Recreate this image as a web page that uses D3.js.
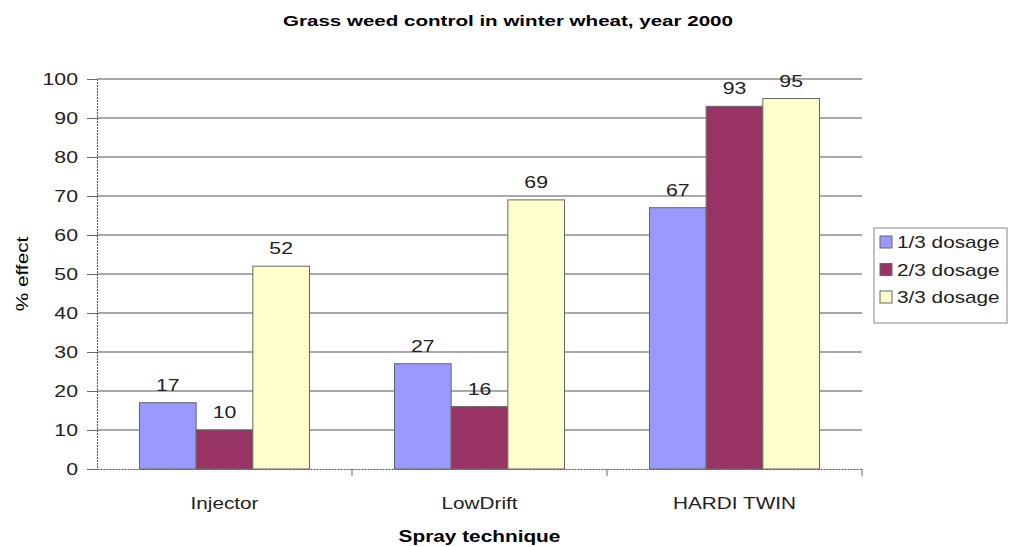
<!DOCTYPE html>
<html>
<head>
<meta charset="utf-8">
<script src="https://cdn.jsdelivr.net/npm/d3@7"></script>
<style>
  body { margin: 0; background: #fff; }
  svg { display: block; font-family: Arial, "Liberation Sans", sans-serif; }
</style>
</head>
<body>
<div id="vis-container"></div>
<script>
// chart data
const techniques = ["Injector", "LowDrift", "HARDI TWIN"]
const dosages = ["1/3 dosage", "2/3 dosage", "3/3 dosage"]
const dose1 = [17, 27, 67]
const dose2 = [10, 16, 93]
const dose3 = [52, 69, 95]
const yTicks = [0, 10, 20, 30, 40, 50, 60, 70, 80, 90, 100]
const colors = ["#9999ff", "#993366", "#ffffcc"]

const FONT = 'Arial, "Liberation Sans", sans-serif'

const svgWidth = 1009
const svgHeight = 547
const margin = { left: 97, right: 147, top: 79, bottom: 78 }
const width = svgWidth - margin.left - margin.right
const height = svgHeight - margin.top - margin.bottom

// the reference text is a bit wide, so stretch glyphs horizontally
function stretch(sel, factor) {
    sel.each(function () {
        const len = this.getComputedTextLength()
        d3.select(this)
            .attr('textLength', len * factor)
            .attr('lengthAdjust', 'spacingAndGlyphs')
    })
}

const svg = d3.select('#vis-container')
    .append('svg')
    .attr('width', svgWidth)
    .attr('height', svgHeight)

const g = svg.append('g')
    .attr('transform', `translate(${margin.left},${margin.top})`)

// wrangle into rows
const series = [dose1, dose2, dose3]
let rows = []
techniques.forEach((t, i) => {
    dosages.forEach((d, j) => {
        rows.push({ technique: t, dosage: d, value: series[j][i] })
    })
})

// scales
const xScale = d3.scaleBand()
    .domain(techniques)
    .range([0, width])

const xInner = d3.scaleBand()
    .domain(dosages)
    .range([0, xScale.bandwidth()])
    .paddingInner(0)
    .paddingOuter(0.75)

const yScale = d3.scaleLinear()
    .domain([0, 100])
    .range([height, 0])

const colorScale = d3.scaleOrdinal()
    .domain(dosages)
    .range(colors)

// gridlines
g.append('g')
    .selectAll('line')
    .data(yTicks.slice(1))
    .join('line')
    .attr('x1', 0)
    .attr('x2', width)
    .attr('y1', d => yScale(d))
    .attr('y2', d => yScale(d))
    .attr('stroke', '#8c8c8c')
    .attr('stroke-width', 1.5)

// bars
g.append('g')
    .selectAll('rect')
    .data(rows)
    .join('rect')
    .attr('x', d => xScale(d.technique) + xInner(d.dosage))
    .attr('y', d => yScale(d.value))
    .attr('width', xInner.bandwidth())
    .attr('height', d => height - yScale(d.value))
    .attr('fill', d => colorScale(d.dosage))
    .attr('stroke', '#666')
    .attr('stroke-width', 1)

// value labels
const valueLabels = g.append('g')
    .selectAll('text')
    .data(rows)
    .join('text')
    .attr('x', d => xScale(d.technique) + xInner(d.dosage) + xInner.bandwidth() / 2)
    .attr('y', d => yScale(d.value) - 12)
    .attr('text-anchor', 'middle')
    .attr('font-size', 17)
    .attr('fill', '#222')
    .text(d => d.value)
stretch(valueLabels, 1.25)

// y axis
const yAxis = g.append('g')
    .call(d3.axisLeft(yScale).tickValues(yTicks).tickSizeOuter(0).tickSize(10).tickPadding(9))
yAxis.selectAll('text').attr('font-size', 17).attr('fill', '#222').attr('font-family', FONT)
stretch(yAxis.selectAll('text'), 1.25)
yAxis.selectAll('line').attr('stroke', '#666')
yAxis.select('.domain').attr('stroke', '#555').attr('stroke-dasharray', '2,1')

// x axis: ticks at category borders
const xAxis = g.append('g')
    .attr('transform', `translate(0,${height})`)
    .call(d3.axisBottom(xScale).tickSize(0).tickPadding(28).tickSizeOuter(0))
xAxis.selectAll('text').attr('font-size', 17).attr('fill', '#222').attr('font-family', FONT)
stretch(xAxis.selectAll('text'), 1.22)
xAxis.select('.domain').attr('stroke', '#555').attr('stroke-dasharray', '2,1')
xAxis.append('g')
    .selectAll('line')
    .data(techniques.slice(1).concat(['end']))
    .join('line')
    .attr('x1', d => d === 'end' ? width : xScale(d))
    .attr('x2', d => d === 'end' ? width : xScale(d))
    .attr('y1', 0)
    .attr('y2', 7)
    .attr('stroke', '#666')

// titles
const title = svg.append('text')
    .attr('x', 508)
    .attr('y', 26)
    .attr('text-anchor', 'middle')
    .attr('font-size', 15)
    .attr('font-weight', 'bold')
    .text('Grass weed control in winter wheat, year 2000')
stretch(title, 1.37)

const xTitle = svg.append('text')
    .attr('x', margin.left + width / 2)
    .attr('y', 542)
    .attr('text-anchor', 'middle')
    .attr('font-size', 16)
    .attr('font-weight', 'bold')
    .text('Spray technique')
stretch(xTitle, 1.3)

const yTitle = svg.append('text')
    .attr('transform', `translate(28,${margin.top + height / 2}) rotate(-90)`)
    .attr('text-anchor', 'middle')
    .attr('font-size', 16)
    .text('% effect')
stretch(yTitle, 1.3)

// legend
const legend = svg.append('g')
    .attr('transform', 'translate(874,228)')

legend.append('rect')
    .attr('width', 133)
    .attr('height', 95)
    .attr('fill', '#fff')
    .attr('stroke', '#888')

legend.selectAll('g')
    .data(dosages)
    .join('g')
    .attr('transform', (d, i) => `translate(6,${8 + i * 27.5})`)
    .each(function (d) {
        d3.select(this).append('rect')
            .attr('width', 12)
            .attr('height', 12)
            .attr('fill', colorScale(d))
            .attr('stroke', '#666')
        const t = d3.select(this).append('text')
            .attr('x', 17)
            .attr('y', 12)
            .attr('font-size', 17)
            .attr('fill', '#222')
            .text(d)
        stretch(t, 1.22)
    })
</script>
</body>
</html>
